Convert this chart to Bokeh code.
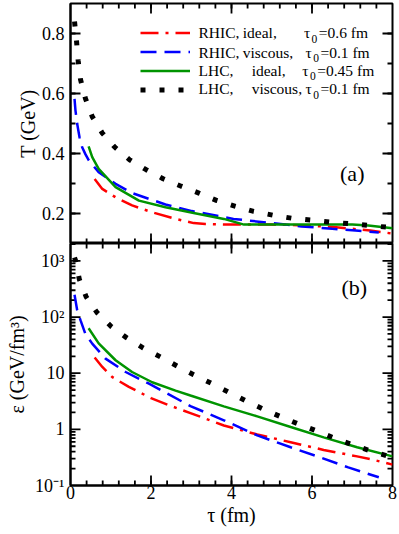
import math
from bokeh.plotting import figure
from bokeh.models import Range1d, FixedTicker, Label, Legend, LegendItem
from bokeh.core.properties import value
from bokeh.layouts import column
from bokeh.embed import file_html
from bokeh.resources import INLINE

# ---------------- data ----------------
# panel (a): temperature T (GeV) vs tau (fm)
tau_rhic_ideal_T = [0.6, 0.79, 1.12, 1.53, 2.03, 2.61, 3.06, 3.35, 4.0, 5.0, 5.5, 6.0, 6.6, 7.0, 7.45, 7.9, 8.0]
T_rhic_ideal = [0.315, 0.282, 0.254, 0.227, 0.204, 0.182, 0.168, 0.165, 0.163, 0.163, 0.162, 0.159, 0.154, 0.149, 0.143, 0.135, 0.134]

tau_rhic_visc_T = [0.1, 0.124, 0.166, 0.224, 0.29, 0.373, 0.455, 0.70, 1.12, 1.53, 2.36, 3.02, 4.05, 4.8, 5.74, 6.5, 7.08, 7.66]
T_rhic_visc = [0.582, 0.543, 0.499, 0.454, 0.421, 0.397, 0.377, 0.338, 0.299, 0.268, 0.230, 0.208, 0.182, 0.171, 0.157, 0.149, 0.143, 0.137]

tau_lhc_ideal_T = [0.45, 0.54, 0.70, 1.12, 1.70, 2.36, 3.06, 3.81, 4.31, 5.0, 6.0, 7.0, 7.4, 8.0]
T_lhc_ideal = [0.424, 0.388, 0.349, 0.288, 0.243, 0.221, 0.202, 0.182, 0.163, 0.163, 0.163, 0.163, 0.160, 0.151]

tau_lhc_visc_T = [0.10, 0.15, 0.19, 0.25, 0.37, 0.54, 0.79, 1.10, 1.47, 1.88, 2.30, 2.75, 3.19, 3.64, 4.10, 4.55, 5.04, 5.51, 5.99, 6.46, 6.94, 7.41, 7.89, 8.0]
T_lhc_visc = [0.84, 0.774, 0.71, 0.646, 0.584, 0.523, 0.468, 0.421, 0.379, 0.346, 0.316, 0.291, 0.268, 0.243, 0.224, 0.207, 0.194, 0.184, 0.178, 0.171, 0.166, 0.160, 0.154, 0.153]

# panel (b): energy density (GeV/fm^3) vs tau (fm)
tau_rhic_ideal_e = [0.6, 0.79, 1.04, 1.45, 2.0, 2.5, 2.98, 3.81, 4.64, 5.47, 6.29, 7.12, 7.5, 8.0]
e_rhic_ideal = [19.0, 12.9, 8.5, 5.7, 3.6, 2.6, 1.95, 1.17, 0.81, 0.59, 0.43, 0.33, 0.29, 0.235]

tau_rhic_visc_e = [0.1, 0.166, 0.25, 0.37, 0.54, 0.87, 1.37, 1.95, 2.98, 3.81, 4.64, 5.47, 6.13, 6.9, 7.66]
e_rhic_visc = [250, 132, 87, 50, 33.6, 18.2, 10.5, 6.5, 2.6, 1.45, 0.78, 0.48, 0.33, 0.21, 0.14]

tau_lhc_ideal_e = [0.45, 0.7, 1.12, 1.53, 2.03, 2.61, 2.98, 3.81, 4.64, 5.47, 6.29, 7.12, 8.0]
e_lhc_ideal = [63, 34, 17, 10.5, 6.9, 4.9, 4.0, 2.57, 1.70, 1.1, 0.72, 0.48, 0.33]

tau_lhc_visc_e = [0.1, 0.124, 0.22, 0.39, 0.66, 1.01, 1.39, 1.81, 2.24, 2.65, 3.06, 3.50, 3.93, 4.36, 4.79, 5.23, 5.67, 6.13, 6.57, 7.01, 7.47, 7.91, 8.0]
e_lhc_visc = [1150, 1020, 468, 229, 120, 68, 43, 28, 19.4, 13.4, 9.4, 6.6, 4.6, 3.2, 2.29, 1.67, 1.24, 0.93, 0.69, 0.53, 0.41, 0.33, 0.32]

# ticks and tick labels
x_ticks = [0, 2, 4, 6, 8]
x_minor = [round(0.4 * i, 6) for i in range(21)]
T_ticks = [0.2, 0.4, 0.6, 0.8]
T_minor = [round(0.1 * i, 6) for i in range(1, 10)]
e_ticks = [0.1, 1, 10, 100, 1000]
e_tick_labels = ["10\u207b\u00b9", "1", "10", "10\u00b2", "10\u00b3"]
e_minor = [k * 10.0 ** d for d in range(-1, 4) for k in range(2, 10)]

# legend texts
leg_coll = ["RHIC,", "RHIC,", "LHC,", "LHC,"]
leg_mode = ["ideal,", "viscous,", "ideal,", "viscous,"]
leg_tau0 = ["=0.6 fm", "=0.1 fm", "=0.45 fm", "=0.1 fm"]

FONT = "Liberation Serif"
RED, BLUE, GREEN, BLACK = "#ff0000", "#0000ff", "#009400", "#000000"

X0, X1 = 0, 8
T0, T1 = 0.1, 0.9
E0, E1 = 0.1, 2040
W, BL, BR = 399, 70, 7
FW = W - BL - BR            # frame width (px)
H1, BT1 = 243, 3
FH1 = H1 - BT1              # frame height of panel (a)
H2, BB2 = 291, 49
FH2 = H2 - BB2              # frame height of panel (b)
MAJ, MIN = 10, 5            # tick lengths (px)


def style_axis(ax, ticker):
    ax.ticker = ticker
    ax.major_tick_in = 0
    ax.major_tick_out = 0
    ax.minor_tick_in = 0
    ax.minor_tick_out = 0
    ax.axis_line_width = 2
    ax.axis_line_color = "black"
    ax.major_label_text_font = FONT
    ax.major_label_text_font_size = "18px"
    ax.major_label_text_color = "black"
    ax.major_label_standoff = 6
    ax.axis_label_text_font = FONT
    ax.axis_label_text_font_size = "20px"
    ax.axis_label_text_font_style = "normal"
    ax.axis_label_text_color = "black"


def inward_ticks(p, ylo, yhi, ymaj, ymin, ylog, fh):
    xs0, ys0, xs1, ys1 = [], [], [], []
    dx = (X1 - X0) / FW
    if ylog:
        dl = (math.log10(yhi) - math.log10(ylo)) / fh
    else:
        dl = (yhi - ylo) / fh
    for ticks, L in ((x_minor, MIN), (x_ticks, MAJ)):
        for t in ticks:
            if t <= X0 or t >= X1:
                continue
            for edge, sgn in ((ylo, 1), (yhi, -1)):
                y_end = edge * 10 ** (sgn * L * dl) if ylog else edge + sgn * L * dl
                xs0.append(t); ys0.append(edge); xs1.append(t); ys1.append(y_end)
    for ticks, L in ((ymin, MIN), (ymaj, MAJ)):
        for t in ticks:
            if t <= ylo * 1.0001 or t >= yhi * 0.9999:
                continue
            for edge, sgn in ((X0, 1), (X1, -1)):
                xs0.append(edge); ys0.append(t); xs1.append(edge + sgn * L * dx); ys1.append(t)
    p.segment(x0=xs0, y0=ys0, x1=xs1, y1=ys1, line_color="black", line_width=1.8)


def txt(p, x, y, text, size, **kw):
    p.add_layout(Label(x=x, y=y, text=text, text_font=FONT, text_font_size=size,
                       text_color="black", **kw))


# ---------------- panel (a) ----------------
p1 = figure(width=W, height=H1, output_backend="svg", toolbar_location=None,
            x_range=Range1d(X0, X1), y_range=Range1d(T0, T1), x_axis_location=None,
            min_border_left=BL, min_border_right=BR, min_border_top=BT1, min_border_bottom=0)
p1.grid.visible = False
p1.outline_line_color = "black"
p1.outline_line_width = 2
style_axis(p1.yaxis[0], FixedTicker(ticks=T_ticks))
p1.yaxis[0].axis_label = "T (GeV)"
p1.yaxis[0].axis_label_standoff = 0
inward_ticks(p1, T0, T1, T_ticks, T_minor, False, FH1)

r1 = p1.line(tau_rhic_ideal_T, T_rhic_ideal, line_color=RED, line_width=2.5, line_dash="18 7 3 7")
r2 = p1.line(tau_rhic_visc_T, T_rhic_visc, line_color=BLUE, line_width=2.5, line_dash="16 8")
r3 = p1.line(tau_lhc_ideal_T, T_lhc_ideal, line_color=GREEN, line_width=2.5)
r4 = p1.line(tau_lhc_visc_T, T_lhc_visc, line_color=BLACK, line_width=5, line_dash="5 14")

legend = Legend(items=[LegendItem(label=value(" "), renderers=[r]) for r in (r1, r2, r3, r4)],
                location=(70, 144), glyph_width=50, glyph_height=19, label_height=19,
                label_width=0, label_standoff=0, padding=0, margin=0, spacing=0,
                border_line_alpha=0, background_fill_alpha=0, label_text_font_size="8px")
p1.add_layout(legend)

row_y = [0.802, 0.738, 0.677, 0.616]
mode_x = [4.28, 4.28, 4.50, 4.50]
tau_x = [5.80, 5.84, 5.76, 5.84]
TXT = "15.5px"
for i in range(4):
    txt(p1, 3.18, row_y[i], leg_coll[i], TXT, text_baseline="middle")
    txt(p1, mode_x[i], row_y[i], leg_mode[i], TXT, text_baseline="middle")
    txt(p1, tau_x[i], row_y[i], "\u03c4", TXT, text_baseline="middle")
    txt(p1, tau_x[i] + 0.19, row_y[i] - 0.02, "0", "11.5px", text_baseline="middle")
    txt(p1, tau_x[i] + 0.37, row_y[i], leg_tau0[i], TXT, text_baseline="middle")

txt(p1, 7.0, 0.333, "(a)", "22px", text_align="center", text_baseline="middle")

# ---------------- panel (b) ----------------
p2 = figure(width=W, height=H2, output_backend="svg", toolbar_location=None,
            x_range=Range1d(X0, X1), y_range=Range1d(E0, E1), y_axis_type="log",
            min_border_left=BL, min_border_right=BR, min_border_top=0, min_border_bottom=BB2)
p2.grid.visible = False
p2.outline_line_color = "black"
p2.outline_line_width = 2
style_axis(p2.xaxis[0], FixedTicker(ticks=x_ticks))
p2.xaxis[0].axis_label = "\u03c4 (fm)"
p2.xaxis[0].major_label_standoff = 0
p2.xaxis[0].axis_label_standoff = 2
style_axis(p2.yaxis[0], FixedTicker(ticks=e_ticks))
p2.yaxis[0].major_label_overrides = dict(zip(e_ticks, e_tick_labels))
p2.yaxis[0].axis_label = "\u03b5 (GeV/fm\u00b3)"
p2.yaxis[0].axis_label_standoff = 4
inward_ticks(p2, E0, E1, e_ticks, e_minor, True, FH2)

p2.line(tau_rhic_ideal_e, e_rhic_ideal, line_color=RED, line_width=2.5, line_dash="18 7 3 7")
p2.line(tau_rhic_visc_e, e_rhic_visc, line_color=BLUE, line_width=2.5, line_dash="16 8")
p2.line(tau_lhc_ideal_e, e_lhc_ideal, line_color=GREEN, line_width=2.5)
p2.line(tau_lhc_visc_e, e_lhc_visc, line_color=BLACK, line_width=5, line_dash="5 14")

txt(p2, 7.05, 339, "(b)", "22px", text_align="center", text_baseline="middle")

layout = column(p1, p2, spacing=0)
open("out.html", "w").write(file_html(layout, INLINE))
